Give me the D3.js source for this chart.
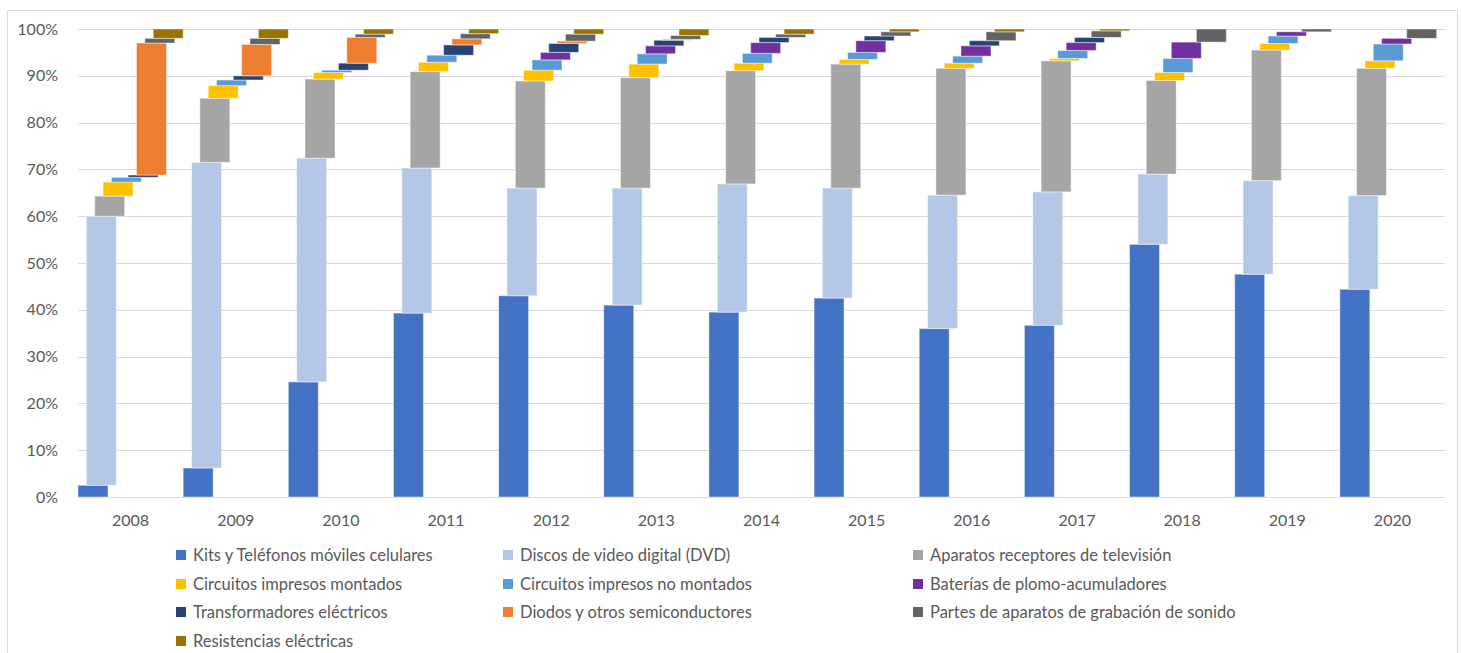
<!DOCTYPE html>
<html>
<head>
<meta charset="utf-8">
<script src="https://cdn.jsdelivr.net/npm/d3@7"></script>
<style>
  body { margin: 0; background: #fff; }
  svg { display: block; font-family: Lato, "Open Sans", sans-serif; }
</style>
</head>
<body>
<svg id="chart" width="1462" height="653"></svg>
<script>
// years on the x axis
var years = ["2008","2009","2010","2011","2012","2013","2014","2015","2016","2017","2018","2019","2020"];

// share (%) of each product per year
var kits          = [2.5, 6.2, 24.6, 39.3, 43.0, 41.0, 39.5, 42.5, 36.0, 36.7, 54.0, 47.6, 44.4];
var dvd           = [57.5, 65.3, 47.8, 31.0, 23.0, 25.0, 27.4, 23.5, 28.5, 28.5, 15.0, 20.0, 20.0];
var television    = [4.3, 13.7, 16.9, 20.6, 22.9, 23.6, 24.2, 26.5, 27.1, 28.0, 20.0, 27.9, 27.2];
var montados      = [3.0, 2.7, 1.4, 2.0, 2.3, 2.9, 1.6, 1.0, 1.1, 0.5, 1.7, 1.4, 1.6];
var noMontados    = [1.0, 1.2, 0.5, 1.5, 2.2, 2.2, 2.1, 1.5, 1.5, 1.7, 3.0, 1.6, 3.6];
var baterias      = [0, 0, 0, 0, 1.6, 1.7, 2.3, 2.5, 2.2, 1.7, 3.5, 0.9, 1.2];
var transformador = [0.5, 0.9, 1.5, 2.2, 1.9, 1.2, 1.1, 1.0, 1.1, 1.1, 0, 0, 0];
var diodos        = [28.2, 6.7, 5.5, 1.3, 0.5, 0.2, 0, 0, 0, 0, 0, 0, 0];
var partes        = [1.0, 1.3, 0.7, 1.1, 1.5, 0.8, 0.7, 0.9, 1.9, 1.4, 2.8, 0.6, 2.0];
var resistencias  = [2.0, 2.0, 1.1, 1.0, 1.1, 1.4, 1.1, 0.6, 0.6, 0.4, 0, 0, 0];

var seriesNames = [
  "Kits y Teléfonos móviles celulares",
  "Discos de video digital (DVD)",
  "Aparatos receptores de televisión",
  "Circuitos impresos montados",
  "Circuitos impresos no montados",
  "Baterías de plomo-acumuladores",
  "Transformadores eléctricos",
  "Diodos y otros semiconductores",
  "Partes de aparatos de grabación de sonido",
  "Resistencias eléctricas"
];
var seriesValues = [kits, dvd, television, montados, noMontados, baterias, transformador, diodos, partes, resistencias];
var colors = ["#4472C4", "#B4C7E7", "#A5A5A5", "#FFC000", "#5B9BD5", "#7030A0", "#264478", "#ED7D31", "#636363", "#997300"];
var yTicks = [0, 10, 20, 30, 40, 50, 60, 70, 80, 90, 100];

var svg = d3.select("#chart");

// outer frame
svg.append("rect")
  .attr("x", 7.5).attr("y", 10.5)
  .attr("width", 1450).attr("height", 660)
  .attr("fill", "none").attr("stroke", "#d9d9d9");

var margin = {left: 78, right: 17, top: 29, bottom: 156};
var W = 1462, H = 653;

var x = d3.scaleBand().domain(years).range([margin.left, W - margin.right]).padding(0);
var y = d3.scaleLinear().domain([0, 100]).range([H - margin.bottom, margin.top]);

// gridlines
svg.append("g").selectAll("line")
  .data(yTicks)
  .enter().append("line")
  .attr("x1", margin.left).attr("x2", W - margin.right)
  .attr("y1", function(d){ return Math.round(y(d)) + 0.5; })
  .attr("y2", function(d){ return Math.round(y(d)) + 0.5; })
  .attr("stroke", "#d9d9d9").attr("stroke-width", 1);

// y axis labels
var yAxis = d3.axisLeft(y).tickValues(yTicks).tickSize(0).tickPadding(20)
  .tickFormat(function(d){ return d + "%"; });
var gy = svg.append("g").attr("transform", "translate(" + margin.left + ",0)").call(yAxis);
gy.select(".domain").remove();
gy.selectAll("text").attr("fill", "#595959").style("font-size", "16px").style("font-family", "Lato, sans-serif");

// x axis labels
var xAxis = d3.axisBottom(x).tickSize(0).tickPadding(18);
var gx = svg.append("g").attr("transform", "translate(0," + y(0) + ")").call(xAxis);
gx.select(".domain").remove();
gx.selectAll("text").attr("fill", "#595959").style("font-size", "16px").style("font-family", "Lato, sans-serif");

// floating bars: each series gets its own slot inside the year band
var bw = x.bandwidth();
var barW = bw * 0.285;
var step = (bw - barW) / (seriesNames.length - 1);

var bars = [];
years.forEach(function(yr, j) {
  var cum = 0;
  seriesValues.forEach(function(vals, i) {
    var v = vals[j];
    if (v > 0) bars.push({year: yr, s: i, y0: cum, y1: cum + v});
    cum += v;
  });
});

svg.append("g").selectAll("rect")
  .data(bars)
  .enter().append("rect")
  .attr("x", function(d){ return x(d.year) + d.s * step; })
  .attr("width", barW)
  .attr("y", function(d){ return y(Math.min(d.y1, 100)); })
  .attr("height", function(d){ return y(d.y0) - y(Math.min(d.y1, 100)); })
  .attr("fill", function(d){ return colors[d.s]; })
  .attr("stroke", "#ffffff").attr("stroke-opacity", 0.45).attr("stroke-width", 1);

// legend, 3 columns
var legX = [176, 503, 913];
var legY = [555, 584, 612, 641];
var leg = svg.append("g").selectAll("g")
  .data(seriesNames)
  .enter().append("g")
  .attr("transform", function(d, i){ return "translate(" + legX[i % 3] + "," + legY[Math.floor(i / 3)] + ")"; });
leg.append("rect")
  .attr("x", 0).attr("y", -5).attr("width", 10).attr("height", 10)
  .attr("fill", function(d, i){ return colors[i]; });
leg.append("text")
  .attr("x", 17).attr("dy", "0.35em")
  .attr("fill", "#595959").style("font-size", "16.5px")
  .text(function(d){ return d; });
</script>
</body>
</html>
